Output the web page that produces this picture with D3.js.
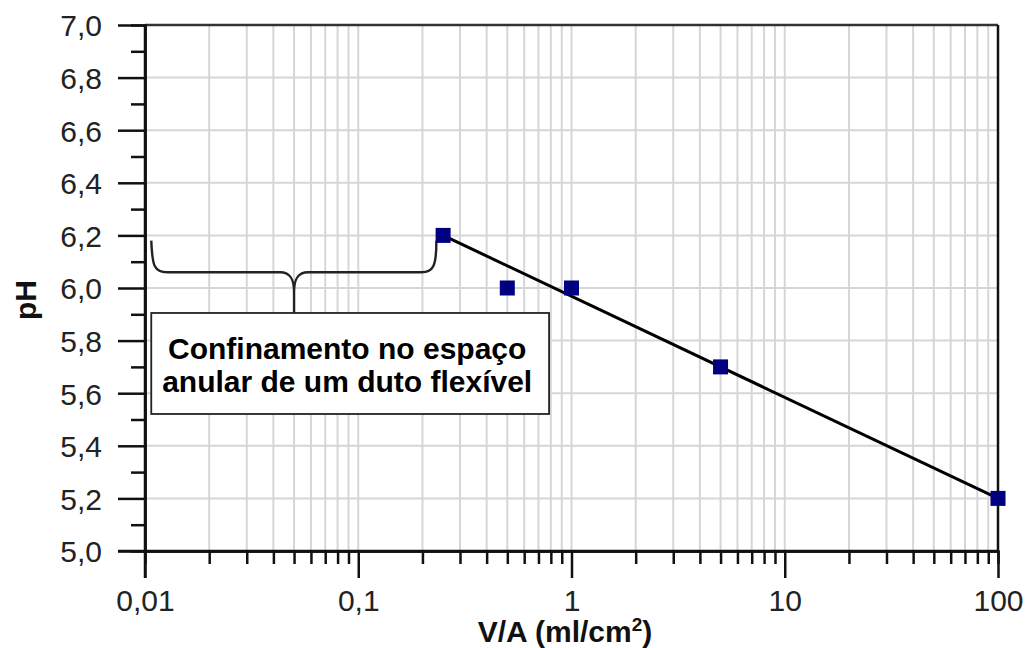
<!DOCTYPE html>
<html>
<head>
<meta charset="utf-8">
<script src="https://cdn.jsdelivr.net/npm/d3@7"></script>
<style>
  html, body { margin: 0; padding: 0; background: #fff; }
  svg { display: block; font-family: "Liberation Sans", Arial, sans-serif; }
</style>
</head>
<body>
<svg id="chart" width="1027" height="648"></svg>
<script>
// pH measured against volume/area ratio
const ratio = [0.25, 0.5, 1, 5, 100];
const ph = [6.2, 6.0, 6.0, 5.7, 5.2];

// fitted trend line endpoints
const fitRatio = [0.25, 100];
const fitPh = [6.2, 5.2];

const xMajorTicks = [0.01, 0.1, 1, 10, 100];
const xTickLabels = ["0,01", "0,1", "1", "10", "100"];
const yMajorTicks = [5.0, 5.2, 5.4, 5.6, 5.8, 6.0, 6.2, 6.4, 6.6, 6.8, 7.0];
const yMinorTicks = [5.1, 5.3, 5.5, 5.7, 5.9, 6.1, 6.3, 6.5, 6.7, 6.9];

const noteLines = ["Confinamento no espaço", "anular de um duto flexível"];

const svg = d3.select("#chart");
const margin = { left: 145, top: 25, right: 29, bottom: 97 };
const W = 1027 - margin.left - margin.right;
const H = 648 - margin.top - margin.bottom;

const x = d3.scaleLog().domain([0.01, 100]).range([0, W]);
const y = d3.scaleLinear().domain([5.0, 7.0]).range([H, 0]);

const g = svg.append("g").attr("transform", `translate(${margin.left},${margin.top})`);

// minor positions on the log axis (2..9 within each decade)
const xMinorTicks = [];
[0.01, 0.1, 1, 10].forEach(d => { for (let k = 2; k <= 9; k++) xMinorTicks.push(d * k); });

const gridColor = "#d6d6d6";

// vertical grid
g.append("g").selectAll("line")
  .data(xMinorTicks.concat([0.1, 1, 10]))
  .join("line")
  .attr("x1", d => x(d)).attr("x2", d => x(d))
  .attr("y1", 0).attr("y2", H)
  .attr("stroke", gridColor).attr("stroke-width", 2);

// horizontal grid
g.append("g").selectAll("line")
  .data(yMajorTicks.slice(1, -1))
  .join("line")
  .attr("x1", 0).attr("x2", W)
  .attr("y1", d => y(d)).attr("y2", d => y(d))
  .attr("stroke", gridColor).attr("stroke-width", 2);

// frame (top and right)
g.append("line").attr("x1", 0).attr("x2", W).attr("y1", 0).attr("y2", 0)
  .attr("stroke", "#333").attr("stroke-width", 2.5);
g.append("line").attr("x1", W).attr("x2", W).attr("y1", 0).attr("y2", H)
  .attr("stroke", "#111").attr("stroke-width", 2.5);

const fmtComma = d => d3.format(".1f")(d).replace(".", ",");

function styleAxis(sel) {
  sel.select(".domain").attr("stroke", "#111").attr("stroke-width", 2.5);
  sel.selectAll(".tick line").attr("stroke", "#111").attr("stroke-width", 2.5);
  sel.selectAll("text").attr("fill", "#222").style("font-size", "30px")
    .style("font-family", "'Liberation Sans', Arial, sans-serif");
}

// y axis minor ticks
g.append("g")
  .call(d3.axisLeft(y).tickValues(yMinorTicks).tickSize(14).tickFormat(""))
  .call(styleAxis);
// y axis major ticks
const gy = g.append("g")
  .call(d3.axisLeft(y).tickValues(yMajorTicks).tickSize(27).tickPadding(16).tickFormat(fmtComma).tickSizeOuter(0))
  .call(styleAxis);
gy.selectAll("text").attr("dy", "0.36em");

// x axis minor ticks
g.append("g").attr("transform", `translate(0,${H})`)
  .call(d3.axisBottom(x).tickValues(xMinorTicks).tickSize(13).tickFormat(""))
  .call(styleAxis);
// x axis major ticks
const gx = g.append("g").attr("transform", `translate(0,${H})`)
  .call(d3.axisBottom(x).tickValues(xMajorTicks).tickSize(27).tickPadding(12)
    .tickFormat((d, i) => xTickLabels[i]).tickSizeOuter(0))
  .call(styleAxis);
gx.selectAll("text").attr("dy", "0.71em");

// extend the axis lines through the outer corner
g.append("line").attr("x1", -27).attr("x2", W).attr("y1", H).attr("y2", H)
  .attr("stroke", "#111").attr("stroke-width", 2.5);
g.append("line").attr("x1", 0).attr("x2", 0).attr("y1", 0).attr("y2", H + 27)
  .attr("stroke", "#111").attr("stroke-width", 2.5);

// trend line
const line = d3.line().x(d => x(d[0])).y(d => y(d[1]));
g.append("path")
  .datum(d3.zip(fitRatio, fitPh))
  .attr("d", line)
  .attr("fill", "none").attr("stroke", "#000").attr("stroke-width", 3);

// brace annotation spanning the confined range
const braceFrom = 0.0107, braceTo = 0.23, braceMid = 0.05;
const braceEndPh = 6.18, braceBarPh = 6.06, braceTipPh = 5.905;
const xL = x(braceFrom), xR = x(braceTo), xM = x(braceMid);
const yE = y(braceEndPh), yB = y(braceBarPh), yT = y(braceTipPh);
const brace = d3.path();
brace.moveTo(xL, yE);
brace.bezierCurveTo(xL + 1, yB - 6, xL + 3, yB, xL + 16, yB);
brace.lineTo(xM - 14, yB);
brace.bezierCurveTo(xM - 3, yB, xM, yB + 8, xM, yB + 20);
brace.lineTo(xM, yT);
brace.moveTo(xM, yB + 20);
brace.bezierCurveTo(xM, yB + 8, xM + 3, yB, xM + 14, yB);
brace.lineTo(xR - 14, yB);
brace.bezierCurveTo(xR - 2, yB, xR + 1, yB - 6, xR + 1, yE);
g.append("path").attr("d", brace.toString())
  .attr("fill", "none").attr("stroke", "#222").attr("stroke-width", 2.4);

// annotation box
const boxRight = x(0.785);
const boxH = 101;
g.append("rect")
  .attr("x", xL).attr("y", yT)
  .attr("width", boxRight - xL).attr("height", boxH)
  .attr("fill", "#fff").attr("stroke", "#222").attr("stroke-width", 1.8);
g.append("g").selectAll("text")
  .data(noteLines)
  .join("text")
  .attr("x", (xL + boxRight) / 2 - 3)
  .attr("y", (d, i) => yT + 46 + i * 33)
  .attr("text-anchor", "middle")
  .attr("font-weight", "bold")
  .attr("font-size", "30px")
  .attr("fill", "#000")
  .text(d => d);

// data markers
g.append("g").selectAll("rect")
  .data(d3.zip(ratio, ph))
  .join("rect")
  .attr("x", d => x(d[0]) - 7.5).attr("y", d => y(d[1]) - 7.5)
  .attr("width", 15).attr("height", 15)
  .attr("fill", "#000080");

// axis titles
const xTitle = svg.append("text")
  .attr("x", 565).attr("y", 642)
  .attr("text-anchor", "middle")
  .attr("font-weight", "bold").attr("font-size", "30px").attr("fill", "#111");
xTitle.append("tspan").text("V/A (ml/cm");
xTitle.append("tspan").attr("dy", "-11").attr("font-size", "19px").text("2");
xTitle.append("tspan").attr("dy", "11").text(")");

svg.append("text")
  .attr("transform", "translate(36,300) rotate(-90)")
  .attr("text-anchor", "middle")
  .attr("font-weight", "bold").attr("font-size", "30px").attr("fill", "#111")
  .text("pH");
</script>
</body>
</html>
